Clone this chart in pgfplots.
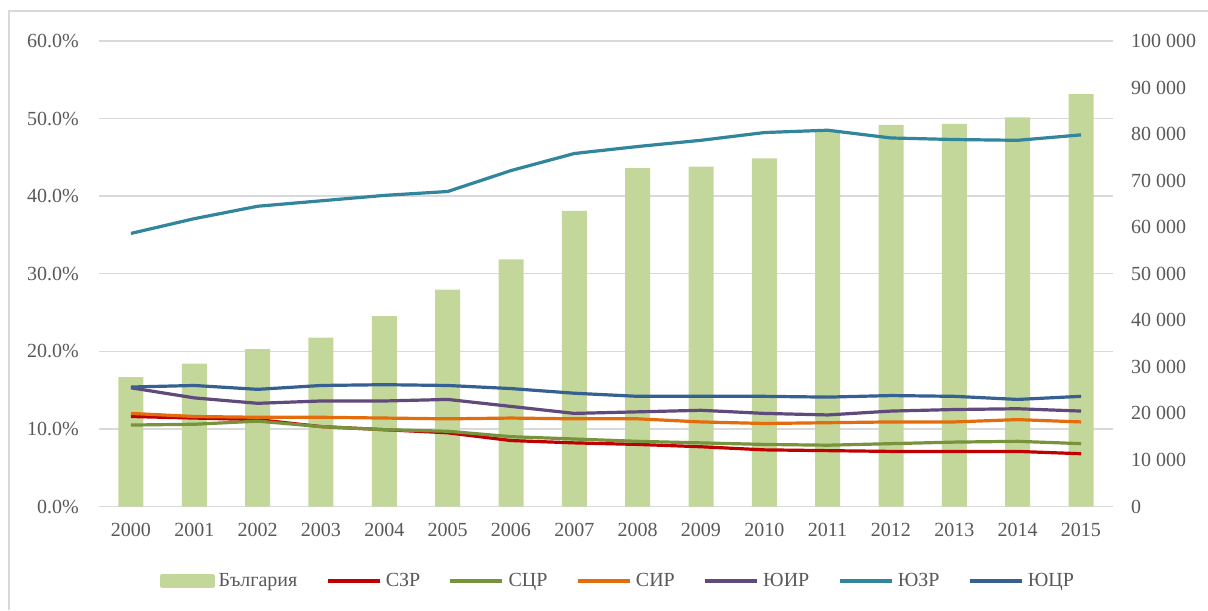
\documentclass[border=0pt]{standalone}
\usepackage{fontspec}
\setmainfont{Liberation Serif}
\usepackage{pgfplots}
\pgfplotsset{compat=1.18}
\definecolor{barc}{HTML}{C4D79B}
\definecolor{cszr}{HTML}{C00000}
\definecolor{cscr}{HTML}{77933C}
\definecolor{csir}{HTML}{E46C0A}
\definecolor{cuir}{HTML}{604A7B}
\definecolor{cuzr}{HTML}{31859C}
\definecolor{cucr}{HTML}{376092}
\definecolor{gridc}{HTML}{D9D9D9}
\definecolor{txt}{HTML}{595959}
\begin{document}
\fontsize{10}{12}\selectfont
\begin{tikzpicture}
\useasboundingbox (-49.65pt,-51.75pt) rectangle (554.35pt,253.25pt);
\draw[gridc, line width=0.6pt] (-45.15pt,-51.75pt) -- (-45.15pt,247.75pt) -- (554.35pt,247.75pt);
% right axis with bars
\begin{axis}[
  at={(0,0)}, anchor=origin,
  width=506.7pt, height=232.75pt, scale only axis,
  xmin=1999.5, xmax=2015.5,
  ymin=0, ymax=100000,
  xtick=\empty,
  ytick={0,10000,...,100000},
  axis y line*=right, axis x line=none,
  axis line style={draw=none},
  major tick length=0pt,
  /pgf/number format/fixed,
  /pgf/number format/precision=0,
  /pgf/number format/1000 sep={\ },
  /pgf/number format/assume math mode=true,
  scaled y ticks=false,
  yticklabel style={font=\fontsize{10}{12}\selectfont, text=txt, xshift=5.7pt},
  extra y ticks={0,16666.667,33333.333,50000,66666.667,83333.333,100000},
  extra y tick labels={},
  extra y tick style={grid=major, major grid style={gridc, line width=0.75pt}},
]
\addplot[ybar, bar width=12.5pt, fill=barc, draw=none] coordinates {
(2000,27800) (2001,30700) (2002,33800) (2003,36300) (2004,40900) (2005,46600)
(2006,53100) (2007,63500) (2008,72700) (2009,73000) (2010,74800) (2011,80800)
(2012,82000) (2013,82200) (2014,83600) (2015,88600)};
\end{axis}
% left axis with lines
\begin{axis}[
  at={(0,0)}, anchor=origin,
  width=506.7pt, height=232.75pt, scale only axis,
  xmin=1999.5, xmax=2015.5,
  ymin=0, ymax=60,
  xtick={2000,...,2015},
  xticklabels={2000,2001,2002,2003,2004,2005,2006,2007,2008,2009,2010,2011,2012,2013,2014,2015},
  ytick={0,10,...,60},
  yticklabels={0.0\%,10.0\%,20.0\%,30.0\%,40.0\%,50.0\%,60.0\%},
  axis y line*=left, axis x line*=bottom,
  axis line style={draw=none},
  major tick length=0pt,
  xticklabel style={font=\fontsize{10}{12}\selectfont, text=txt, yshift=-5pt},
  yticklabel style={font=\fontsize{10}{12}\selectfont, text=txt, xshift=-6.7pt},
  legend columns=7,
  legend style={draw=none, fill=none, at={(0.513,-0.16)}, anchor=center,
    font=\fontsize{10}{12}\selectfont, text=txt,
    /tikz/every even column/.append style={column sep=12pt}},
  legend image code/.code={\draw[#1, line width=2.2pt] (0pt,0pt) -- (26pt,0pt);},
  every axis plot/.append style={line width=1.6pt, line join=round, mark=none},
]
\addlegendimage{area legend, legend image code/.code={\fill[barc] (0pt,-2.5pt) rectangle (25.5pt,2.5pt);}}
\addlegendentry{България}
\addplot[cszr] coordinates {(2000,11.6) (2001,11.4) (2002,11.2) (2003,10.3) (2004,9.9) (2005,9.5) (2006,8.5) (2007,8.2) (2008,8.0) (2009,7.7) (2010,7.3) (2011,7.2) (2012,7.1) (2013,7.1) (2014,7.1) (2015,6.8)};
\addlegendentry{СЗР}
\addplot[cscr] coordinates {(2000,10.5) (2001,10.6) (2002,11.0) (2003,10.3) (2004,9.9) (2005,9.7) (2006,9.0) (2007,8.7) (2008,8.4) (2009,8.2) (2010,8.0) (2011,7.9) (2012,8.1) (2013,8.3) (2014,8.4) (2015,8.1)};
\addlegendentry{СЦР}
\addplot[csir] coordinates {(2000,12.0) (2001,11.6) (2002,11.5) (2003,11.5) (2004,11.4) (2005,11.3) (2006,11.4) (2007,11.3) (2008,11.3) (2009,10.9) (2010,10.7) (2011,10.8) (2012,10.9) (2013,10.9) (2014,11.2) (2015,10.9)};
\addlegendentry{СИР}
\addplot[cuir] coordinates {(2000,15.3) (2001,14.0) (2002,13.3) (2003,13.6) (2004,13.6) (2005,13.8) (2006,12.9) (2007,12.0) (2008,12.2) (2009,12.4) (2010,12.0) (2011,11.8) (2012,12.3) (2013,12.5) (2014,12.6) (2015,12.3)};
\addlegendentry{ЮИР}
\addplot[cuzr] coordinates {(2000,35.2) (2001,37.1) (2002,38.7) (2003,39.4) (2004,40.1) (2005,40.6) (2006,43.3) (2007,45.5) (2008,46.4) (2009,47.2) (2010,48.2) (2011,48.5) (2012,47.5) (2013,47.3) (2014,47.2) (2015,47.9)};
\addlegendentry{ЮЗР}
\addplot[cucr] coordinates {(2000,15.4) (2001,15.6) (2002,15.1) (2003,15.6) (2004,15.7) (2005,15.6) (2006,15.2) (2007,14.6) (2008,14.2) (2009,14.2) (2010,14.2) (2011,14.1) (2012,14.3) (2013,14.2) (2014,13.8) (2015,14.2)};
\addlegendentry{ЮЦР}
\end{axis}
\end{tikzpicture}
\end{document}
